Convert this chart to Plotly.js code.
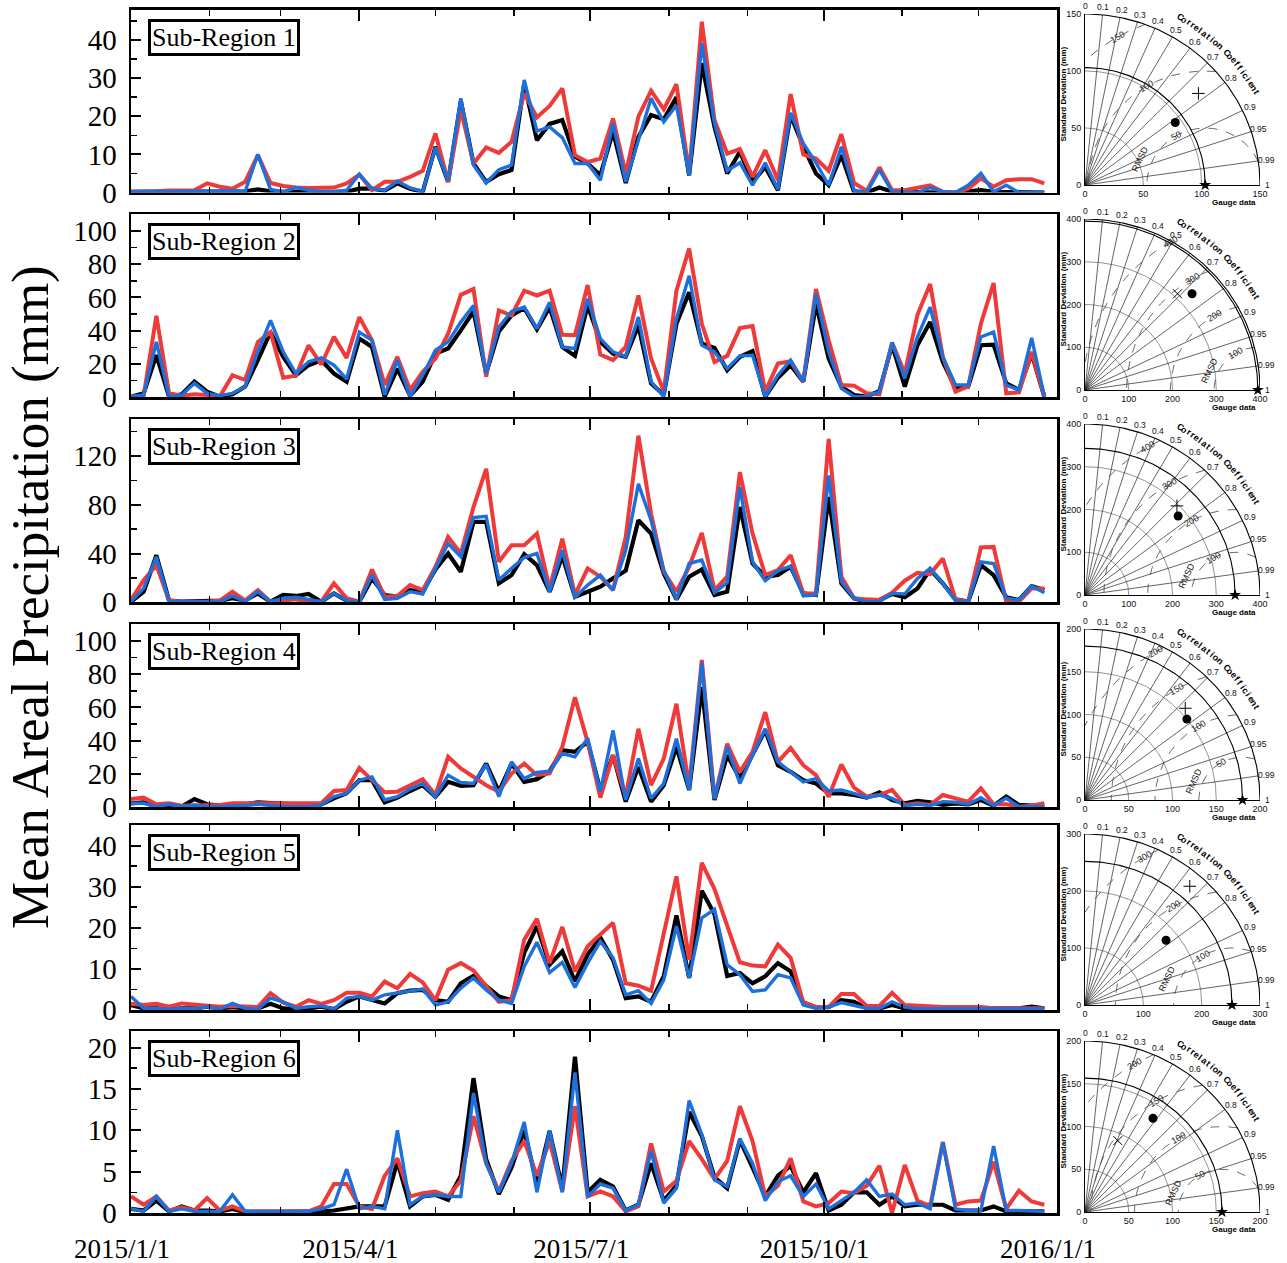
<!DOCTYPE html>
<html><head><meta charset="utf-8">
<script src="https://cdn.plot.ly/plotly-3.0.1.min.js"></script>
<style>html,body{margin:0;padding:0;background:#fff}</style>
</head><body><div id="chart" style="width:1287px;height:1263px"></div>
<script>
// ---------------- DATA ----------------
const startDate = '2015-01-01';
const stepDays = 5;
const regionNames = ['Sub-Region 1','Sub-Region 2','Sub-Region 3','Sub-Region 4','Sub-Region 5','Sub-Region 6'];
const yAxisTitle = 'Mean Areal Precipitation (mm)';
const xTickVals = ['2015-01-01','2015-04-01','2015-07-01','2015-10-01','2016-01-01'];
const xTickText = ['2015/1/1','2015/4/1','2015/7/1','2015/10/1','2016/1/1'];
const xMinorVals = ['2015-02-01','2015-03-01','2015-05-01','2015-06-01','2015-08-01','2015-09-01','2015-11-01','2015-12-01'];
const yMax = [48, 110, 150, 110, 45, 22];
const yStep = [10, 20, 40, 20, 10, 5];
const yMinorStep = [5, 10, 20, 10, 5, 2.5];

const black1 = [0.2,0.2,0.2,0.2,0.2,0.2,0.3,0.3,0.3,0.3, 0.8,0.3,0.2,0.2,0.2,0.2,0.2,0.2,1.0,1.0, 0.5,2.4,1.0,0.2,12,2.8,24,7.6,2.8,4.8, 5.9,28.6,13.7,18,19,9.4,7.6,4.5,16,2.5, 14.6,20.3,19.2,25,4.5,33.9,17.2,5,10.7,2.8, 6.7,0.6,20.3,12,5,1.9,9.8,0.2,0,1.3, 0.2,0.1,0.1,0.1,0,0,0.2,0.6,0.2,0.2, 0,0,0];
const red1 = [0.2,0.2,0.3,0.5,0.5,0.6,2.4,1.5,1.0,2.8, 9.8,2.5,1.7,1.3,1.2,1.3,1.3,2.4,4.7,0.6, 2.8,2.8,4.1,5.7,15.5,2.8,21.6,7.6,11.8,10.4, 13.3,26,19.7,22.7,27.3,9.8,8,8.9,19.4,5, 19.9,26.7,21.8,28.4,5,44.8,19,10.2,11.4,4.1, 11.1,3.2,25.8,10,8.9,5.7,15.3,2.5,0.4,6.6, 0.6,0.6,1.3,1.9,0.2,0,1,3.7,1.5,3.2, 3.5,3.5,2.4];
const blue1 = [0.2,0.2,0.3,0.3,0.3,0.3,0.3,0.4,0.5,0.3, 10,0.8,0.2,1.3,0.6,0.2,0.2,0.6,4.8,1, 0.6,3,1.2,0.3,11.8,3.2,24.7,7.2,2.5,6, 7.2,29.5,16.1,17.2,14.4,7.6,7.6,3.2,18.1,2.8, 13.7,24.7,18.5,22.9,4.5,39.1,18.1,5.7,7.8,1.9, 7.8,0.8,20.9,12.9,7.8,1.9,12,0.6,0,5.9, 0.2,0,0,1.3,0.2,0,1.9,5,0.2,1.9, 0,0,0];

const black2 = [0.4,2.4,25.3,0.4,1.8,9.4,3.4,0.4,1.8,6.4, 22.3,39.2,24.3,13.3,19.3,22.3,14.3,9.4,35.3,30.3, 0.4,17.3,1,9.4,26.3,29.3,40.2,51.6,14.3,39.6, 49.2,53.6,40.8,54.2,30.3,24.9,55.2,33.3,26.3,24.3, 43.2,8.4,1.4,44.2,63.1,32.3,29.7,16.3,24.3,27.7, 0.4,11.8,19.3,9.4,56.2,23.3,6.4,1.4,0.4,3.8, 31.3,6.4,31.3,45.2,21.3,5.4,6.4,31.3,31.7,8.4, 4.4,26.3,0.4];
const red2 = [0.4,1,49,2.4,1,1.8,1.4,0.4,13.3,10.4, 33.3,39.2,11.8,13,31.3,19.7,36.3,23.7,48.2,34.3, 7.4,24.3,4.4,15.3,23.3,38.2,61.6,65.1,12.4,52.2, 49.2,64.1,61.2,64.1,37.6,37.3,67.5,25.7,22.3,30.3, 61.2,23.3,3.4,64.1,89.4,44.2,21.3,24.9,41.6,42.8, 3.4,20.3,21.7,9.4,65.1,34.3,7.4,7,2.4,1.8, 32.9,14.3,49.6,68.1,24.3,3.4,6.4,44.2,68.7,2.4, 3,27.3,0.4];
const blue2 = [0.4,1.4,33.3,0.4,1.4,8.4,2.4,1,2.4,6.4, 27.3,46.2,27.3,14.3,21.3,23.7,19.3,11,39.2,34.3, 1.4,22.3,0.4,13.3,28.3,33.3,45.2,55.2,14.3,42.2, 51.6,54.2,41.2,57.2,30.3,29.3,59.2,35.3,27.3,24.3, 48.2,9.4,0.4,47.2,73.1,31.3,27.3,17.3,24.9,25.3, 0.4,13.3,22.3,9.4,62.2,27.3,5.4,0.4,0.4,3.4, 32.9,11.4,36.3,54.2,24.3,7.4,7.4,36.3,39.2,7.4, 4.4,35.7,0.4];

const black3 = [0.5,8.7,38.6,1.4,0.5,0.8,1.9,1.4,3.3,1.4, 7.3,0.5,6,5.2,6.8,0.5,7.3,1.4,0.5,19.6, 6,4.6,10,8.7,26.9,40,25,65.9,65.9,15.5, 22.3,39.5,30.5,8.7,37.8,4.6,8.7,12.8,19.6,25.9, 67.2,56.3,23.7,2.4,21,26.9,6,8.7,78.1,31.8, 21,22.3,29.1,7.3,6,86.3,15.5,3.3,0.5,1.9, 6.8,4.1,11.4,26.9,15.5,2.4,0.5,30.5,22.3,4.1, 1.9,13.3,10];
const red3 = [1.9,18.2,30.5,1.4,0.5,0.5,0.5,1.4,8.7,1.4, 10,0.5,1.4,2.4,0.5,0.5,15.5,3.3,0.5,26.9, 4.6,5.2,14.1,10,29.1,53.6,40,78.1,109.4,33.2, 46.8,46.8,56.3,11.4,52.2,6,27.8,21,10,53.6, 136.6,72.7,25,8.7,29.1,56.9,10,21,106.7,56.3, 22.3,26.4,38.6,7.3,7.3,133.9,21,3.3,2.4,1.9, 7.9,17.7,24.2,23.1,35.9,2.4,0.5,44.9,45.4,0.5, 0.5,11.4,11.4];
const blue3 = [0.5,11.4,37.3,0.5,0.5,0.5,0.5,0.5,5.2,0.5, 8.7,0.5,3.3,4.1,2.4,0.5,7.3,1.4,0.5,22.3, 2.4,3.3,8.7,6.8,27.8,48.2,37.3,69.4,70.5,18.2, 27.8,36.7,40,8.7,42.7,4.1,14.1,22.3,10,42.7, 97.1,67.2,26.4,2.4,31.8,34.6,7.9,16.1,94.4,33.2, 17.7,25.9,29.7,5.2,6,103.9,16.9,3.3,0.5,0.5, 7.3,6.8,19.6,27.8,15.5,1.4,0.5,33.2,31.8,3.3, 1.9,13.3,7.9];

const black4 = [2.4,3,0.4,1.4,0.4,5,1.8,1,1.4,1.8, 3,2.4,2.4,1.8,1.4,1.8,5.4,8.4,16.3,16.3, 3,5.8,9.8,13.3,6.4,15.3,12.9,13.3,26.3,9.4, 26.3,15.3,16.9,21.7,34.3,33.3,39.5,10.4,31.3,3.4, 24.3,3.4,13.3,36.3,10.4,72.1,4.4,31.3,17.3,31.3, 46.2,25.3,21.3,16.3,14.3,8.4,8.4,7.4,5.8,9, 4.4,2.4,3.8,3,1.4,2.4,1.8,4.4,1,6.4, 1.4,1,1];
const red4 = [5,5.8,1.8,2.4,1,1,1,1.4,2.4,2.4, 2.4,1.8,1.8,1.8,2.4,2.4,9.8,10.4,23.7,16.3, 9,9.4,13.3,16.9,7.4,30.3,23.3,18.3,13.3,9.4, 20.3,26.3,19.3,20.3,36.3,66.1,39.2,5.8,31.3,6.4, 47.2,13.3,29.3,62.2,12.4,88.6,5.4,38.2,21.3,33.3, 57.2,27.3,35.7,25.3,19.3,6.4,25.7,11.8,6.4,7.4, 10.4,1.4,2.4,1.4,7.4,5.4,3.4,11.4,1.8,1.8, 0.4,1,2.4];
const blue4 = [2.4,2.4,0.4,1.8,0.4,1.4,0.4,0.4,1,1, 1.8,1,0.4,0.4,0.4,1.4,6.4,8.4,16.3,18.3, 4.4,6.4,11,14.3,6.4,19.3,14.9,14.3,25.7,6.4, 27.3,17.3,20.9,21.7,32.3,30.3,41.6,9.4,46.2,4.4, 29.3,5.4,14.3,41.2,10.4,87.1,5,36.3,14.3,31.3, 47.2,27.3,21.3,15.3,17.3,9.8,10.4,8.4,5.8,7.4, 5.4,1,1.8,1,3.4,3,1.8,5.8,1,5.4, 0.4,0.4,0.4];

const black5 = [1.2,0.4,0.4,0.2,0.4,0.4,0.8,0.4,0.7,0.4, 0.4,1.5,0.4,0.2,0.4,0.8,0.2,2,3.3,2.4, 1.6,4.1,4.7,4.9,2.4,2,6.5,8.3,5.9,3.3, 2.4,13.9,20.4,11,14.3,7,13.5,17.6,12.2,2.9, 3.3,2,8.2,23,7.8,29,23.3,8.3,9,6.5, 8.2,11.4,9.4,1.8,0.7,0.7,2.4,2,0.4,0.4, 1.2,0.4,0.3,0.3,0.3,0.3,0.3,0.3,0.3,0.3, 0.4,0.8,0.4];
const red5 = [1.5,1.2,1.5,0.8,1.6,1.4,1.1,0.8,1,0.8, 0.7,4.1,1.8,0.8,2.4,1.5,2.4,4.2,4.2,3.3, 6.9,5.3,8.8,6.7,2.4,9.8,11.4,9.6,5.7,2, 2.4,17.1,22.2,11.4,20.2,9.4,15.5,18.4,21.2,6.5, 5.9,4.7,18.4,32.5,12.2,35.8,29.4,20.4,11.6,10.8, 10.6,15.9,12.7,1.8,0.7,0.7,3.9,3.9,1,1, 4.2,1.2,1,0.7,0.7,0.7,0.7,0.7,0.4,0.4, 0.4,0.4,0.4];
const blue5 = [3.3,0.4,0.4,0.2,0.4,0.3,0.8,0.2,1.6,0.4, 0.2,2.9,2,0.4,0.8,1,0.2,2.9,3.3,2.4, 3.7,4.1,4.7,5.1,1.2,2,5.3,7.8,4.9,2.4, 1.6,10.6,16.5,9.1,11.6,5.5,11.4,16.7,12.7,3.7, 4.7,1.6,7.3,20.4,7.8,22.4,24.5,11,8.6,4.5, 4.9,8.6,7.8,1.2,0.4,0.7,1.8,1.2,0.4,0.4, 2,0.7,0.3,0.3,0.3,0.3,0.5,0.3,0.3,0.3, 0.3,0.3,0.3];

const black6 = [0.5,0.3,1.5,0.2,0.8,0.3,0.3,0.2,0.5,0.1, 0.1,0.1,0.1,0.1,0.1,0.2,0.3,0.5,0.8,0.8, 0.8,6.2,0.8,2,2.2,1.6,4.5,16.3,6.5,2.3, 5.5,10,3.5,9.9,3,18.9,2.5,4,3.2,0.3, 1,6,1.5,3.3,12.2,9.3,4.3,3,8.8,5.5, 2,4.5,5.7,2.5,4.8,0.3,1,2.5,2.5,1, 2,0.8,1,1,1,0.3,0.3,0.3,0.8,0.2, 0.2,0.2,0.2];
const red6 = [2,1,2,0.3,0.7,0.3,1.8,0.3,0.8,0.2, 0.2,0.2,0.2,0.2,0.2,0.8,3.5,3.5,0.8,0.5, 4.5,6.6,2,2.4,2.6,2,3.9,11.7,6,2.6, 6.3,8.7,4.5,8.7,2.6,12.9,2,2.6,2,0.2, 0.8,8.4,2.6,3.9,8.7,6.5,4.1,6.3,12.9,8.7, 2,3.3,6.6,1.4,0.8,1.2,2.6,2.4,3.3,5.7, 0,5.8,1.5,0.8,8.6,1,1.4,1.5,6.2,0.5, 2.7,1.4,1];
const blue6 = [0.5,0.2,2,0.2,0.5,0.2,0.2,0.2,2.2,0.2, 0.2,0.2,0.2,0.2,0.2,0.5,1,5.3,0.5,0.8, 0.5,10,1,2,2.2,2,2,14.5,6,2.5, 6,11,2.5,10,2.5,17,2,3.5,3,0.3, 1,7.5,1.2,3,13.6,9.5,4,3.2,9,6, 1.5,3.8,4.5,2,3.5,0.5,1.5,2.5,4,2, 2.3,1,1.2,0.5,8.5,0.5,0.3,0.3,8.1,0.3, 0.3,0.2,0.2];

// Taylor diagrams
const taylorMax  = [150, 400, 400, 200, 300, 200];
const taylorStep = [50, 100, 100, 50, 100, 50];
const gaugeSD    = [103, 395, 343, 180, 252, 156.6];
const rmsdLevels = [[50,100,150],[100,200,300,400],[100,200,300,400],[50,100,150,200],[100,200,300],[50,100,150,200]];
const dotSD   = [94.8, 332.5, 282, 150, 179.5, 134.4];
const dotR    = [0.816, 0.736, 0.755, 0.776, 0.774, 0.578];
const crossSD = [126.1, 308.8, 296, 157, 275, 91.5];
const crossR  = [0.771, 0.685, 0.71, 0.73, 0.653, 0.41];
const crossSym = ['cross-thin-open','x-thin-open','cross-thin-open','cross-thin-open','cross-thin-open','x-thin-open'];
const corrTicks = [0,0.1,0.2,0.3,0.4,0.5,0.6,0.7,0.8,0.9,0.95,0.99,1];
const corrLines = [0.1,0.2,0.3,0.4,0.5,0.6,0.7,0.8,0.9,0.95,0.99];
const ccTitle = 'Correlation Coefficient';
const sdTitle = 'Standard Deviation (mm)';
const refTitle = 'Gauge data';
const rmsdTitle = 'RMSD';

// ---------------- LAYOUT GEOMETRY ----------------
const W = 1287, H = 1263;
const panelTop = [9.5, 214.3, 419.3, 624.3, 825, 1031];
const panelBot = [192.5, 397.3, 602.3, 807.3, 1010, 1213];
const plotL = 131, plotR = 1057;
const tayX0 = 1085, tayW = 175, tayH = 171;
const tayOrigin = [185, 390, 595, 800, 1005, 1212];

const blackSeries = [black1,black2,black3,black4,black5,black6];
const redSeries = [red1,red2,red3,red4,red5,red6];
const blueSeries = [blue1,blue2,blue3,blue4,blue5,blue6];

function dateAt(i){
  const t = Date.UTC(2015,0,1) + i*stepDays*86400000;
  return new Date(t).toISOString().slice(0,10);
}
const dates = black1.map((_,i)=>dateAt(i));

const traces = [];
const layout = {
  width: W, height: H, margin:{l:0,r:0,t:0,b:0},
  paper_bgcolor:'#fff', plot_bgcolor:'rgba(0,0,0,0)', showlegend:false,
  font:{family:'Liberation Serif', color:'#000'},
  annotations:[]
};
const serif = 'Liberation Serif';
const sans = 'Liberation Sans';

for (let k=0;k<6;k++){
  const sfx = k===0 ? '' : String(k+1);
  const xa = 'x'+sfx, ya = 'y'+sfx;
  const series = [[blackSeries[k],'#000000',4.2],[redSeries[k],'#ef3a3a',4],[blueSeries[k],'#1d70dc',3.4]];
  series.forEach(s=>traces.push({x:dates, y:s[0], xaxis:xa, yaxis:ya, type:'scatter', mode:'lines',
    line:{color:s[1], width:s[2]}, hoverinfo:'skip'}));
  layout['xaxis'+sfx] = {
    type:'date', range:['2015-01-01','2016-01-01'], anchor:ya,
    domain:[plotL/W, plotR/W],
    showline:true, linecolor:'#000', linewidth:2.5, mirror:'ticks',
    ticks:'inside', ticklen:11, tickwidth:2, tickcolor:'#000',
    tickmode:'array', tickvals:xTickVals, ticktext:xTickText,
    showticklabels: k===5, tickfont:{family:serif, size:27, color:'#000'},
    ticklabelshift:-9, ticklabelstandoff:10,
    minor:{tickmode:'array', tickvals:xMinorVals, ticks:'inside', ticklen:6, tickwidth:1.5, tickcolor:'#000', showgrid:false},
    showgrid:false, zeroline:false, fixedrange:true
  };
  layout['yaxis'+sfx] = {
    range:[0,yMax[k]], anchor:xa,
    domain:[(H-panelBot[k])/H, (H-panelTop[k])/H],
    showline:true, linecolor:'#000', linewidth:2.5, mirror:true,
    ticks:'inside', ticklen:10, tickwidth:2, tickcolor:'#000',
    dtick:yStep[k], tick0:0,
    minor:{dtick:yMinorStep[k], tick0:0, ticks:'inside', ticklen:6, tickwidth:1.5, tickcolor:'#000', showgrid:false},
    tickfont:{family:serif, size:29, color:'#000'}, ticklabelstandoff:6,
    showgrid:false, zeroline:false, fixedrange:true
  };
  layout.annotations.push({
    xref:'paper', yref:'paper', x:148/W, y:(H-panelTop[k]-9)/H, xanchor:'left', yanchor:'top',
    text:regionNames[k], showarrow:false, font:{family:serif, size:26, color:'#000'},
    bordercolor:'#000', borderwidth:3, borderpad:1, bgcolor:'#fff'
  });
}
layout.annotations.push({xref:'paper', yref:'paper', x:30/W, y:(H-597)/H, text:yAxisTitle, showarrow:false,
  textangle:-90, font:{family:serif, size:53, color:'#000'}, xanchor:'center', yanchor:'middle'});

// ---------------- TAYLOR DIAGRAMS ----------------
const D = Math.PI/180;
for (let k=0;k<6;k++){
  const n = 7+k;
  const xa='x'+n, ya='y'+n;
  const M = taylorMax[k], ref = gaugeSD[k];
  const P = (x,y)=>({x:(tayX0 + x/M*tayW)/W, y:(H - (tayOrigin[k] - y/M*tayH))/H});
  const note = (x,y,text,opt)=>{const p=P(x,y); layout.annotations.push(Object.assign({xref:'paper',yref:'paper',x:p.x,y:p.y,text:text,showarrow:false,xanchor:'center',yanchor:'middle'},opt));};
  layout['xaxis'+n] = {domain:[tayX0/W,(tayX0+tayW)/W], range:[0,M], anchor:ya,
    showline:true, linecolor:'#000', linewidth:1, ticks:'', dtick:taylorStep[k], tick0:0,
    tickfont:{family:sans,size:9,color:'#111'}, showgrid:false, zeroline:false, fixedrange:true};
  layout['yaxis'+n] = {domain:[(H-tayOrigin[k])/H,(H-tayOrigin[k]+tayH)/H], range:[0,M], anchor:xa,
    showline:true, linecolor:'#000', linewidth:1, ticks:'', dtick:taylorStep[k], tick0:0, ticklabelstandoff:1,
    tickfont:{family:sans,size:9,color:'#111'}, showgrid:false, zeroline:false, fixedrange:true};
  const line = (xs,ys,color,width,dash)=>traces.push({x:xs,y:ys,xaxis:xa,yaxis:ya,type:'scatter',mode:'lines',
    line:{color:color,width:width,dash:dash||'solid'},hoverinfo:'skip',cliponaxis:false});
  const arc = (r)=>{const xs=[],ys=[];for(let a=0;a<=90;a+=1){xs.push(r*Math.cos(a*D));ys.push(r*Math.sin(a*D));}return [xs,ys];};
  {const xs=[],ys=[];
   for(let r=taylorStep[k]; r<M-1e-6; r+=taylorStep[k]){const a=arc(r);xs.push(...a[0],null);ys.push(...a[1],null);}
   line(xs,ys,'#777',0.8);}
  {const xs=[],ys=[];
   corrLines.forEach(c=>{const s=Math.sqrt(1-c*c);xs.push(0,M*c,null);ys.push(0,M*s,null);});
   line(xs,ys,'#222',0.7);}
  {const xs=[],ys=[];
   rmsdLevels[k].forEach(L=>{
     let c0=(M*M-ref*ref-L*L)/(2*ref*L); c0=Math.max(-1,Math.min(1,c0));
     let c1=-ref/L; c1=Math.max(-1,Math.min(1,c1));
     const p0=Math.acos(c0), p1=Math.acos(c1);
     for(let j=0;j<=80;j++){const p=p0+(p1-p0)*j/80; xs.push(ref+L*Math.cos(p)); ys.push(L*Math.sin(p));}
     xs.push(null); ys.push(null);
     let pl = 120*D; if(pl<p0||pl>p1) pl=(p0+p1)/2;
     note(ref+L*Math.cos(pl), L*Math.sin(pl), String(L), {textangle:-(pl/D-90), font:{family:sans,size:9,color:'#222'}});
   });
   line(xs,ys,'#444',0.8,'dash');}
  {const a=arc(ref); line(a[0],a[1],'#000',1.1);}
  {const a=arc(M); line(a[0],a[1],'#000',1.1);}
  traces.push({x:[dotSD[k]*dotR[k]], y:[dotSD[k]*Math.sqrt(1-dotR[k]*dotR[k])], xaxis:xa, yaxis:ya, type:'scatter', mode:'markers',
    marker:{symbol:'circle',size:9,color:'#000'}, hoverinfo:'skip', cliponaxis:false});
  traces.push({x:[crossSD[k]*crossR[k]], y:[crossSD[k]*Math.sqrt(1-crossR[k]*crossR[k])], xaxis:xa, yaxis:ya, type:'scatter', mode:'markers',
    marker:{symbol:crossSym[k],size:9,color:'#000',line:{color:'#000',width:1}}, hoverinfo:'skip', cliponaxis:false});
  traces.push({x:[ref], y:[0], xaxis:xa, yaxis:ya, type:'scatter', mode:'markers',
    marker:{symbol:'star',size:9,color:'#000'}, hoverinfo:'skip', cliponaxis:false});
  corrTicks.forEach(c=>{const s=Math.sqrt(1-c*c); const r=M*1.045;
    note(r*c, r*s, String(c), {font:{family:sans,size:8.5,color:'#111'}});});
  const chars = ccTitle.split('');
  chars.forEach((ch,i)=>{const th=(61-i*32/(chars.length-1))*D; const r=M*1.12;
    if(ch===' ') return;
    note(r*Math.cos(th), r*Math.sin(th), ch, {textangle:90-th/D, font:{family:sans,size:9,color:'#000',weight:'bold'}});});
  note(-M*0.125, M*0.53, sdTitle, {textangle:-90, font:{family:sans,size:8,color:'#000',weight:'bold'}});
  note(M*0.85, -M*0.1, refTitle, {font:{family:sans,size:8,color:'#000',weight:'bold'}});
  const rl=rmsdLevels[k][0]*1.2, ra=158*D;
  note(ref+rl*Math.cos(ra), rl*Math.sin(ra), rmsdTitle, {textangle:-65, font:{family:sans,size:9,color:'#111'}});
}

Plotly.newPlot('chart', traces, layout, {staticPlot:true, displayModeBar:false});
</script>
</body></html>
